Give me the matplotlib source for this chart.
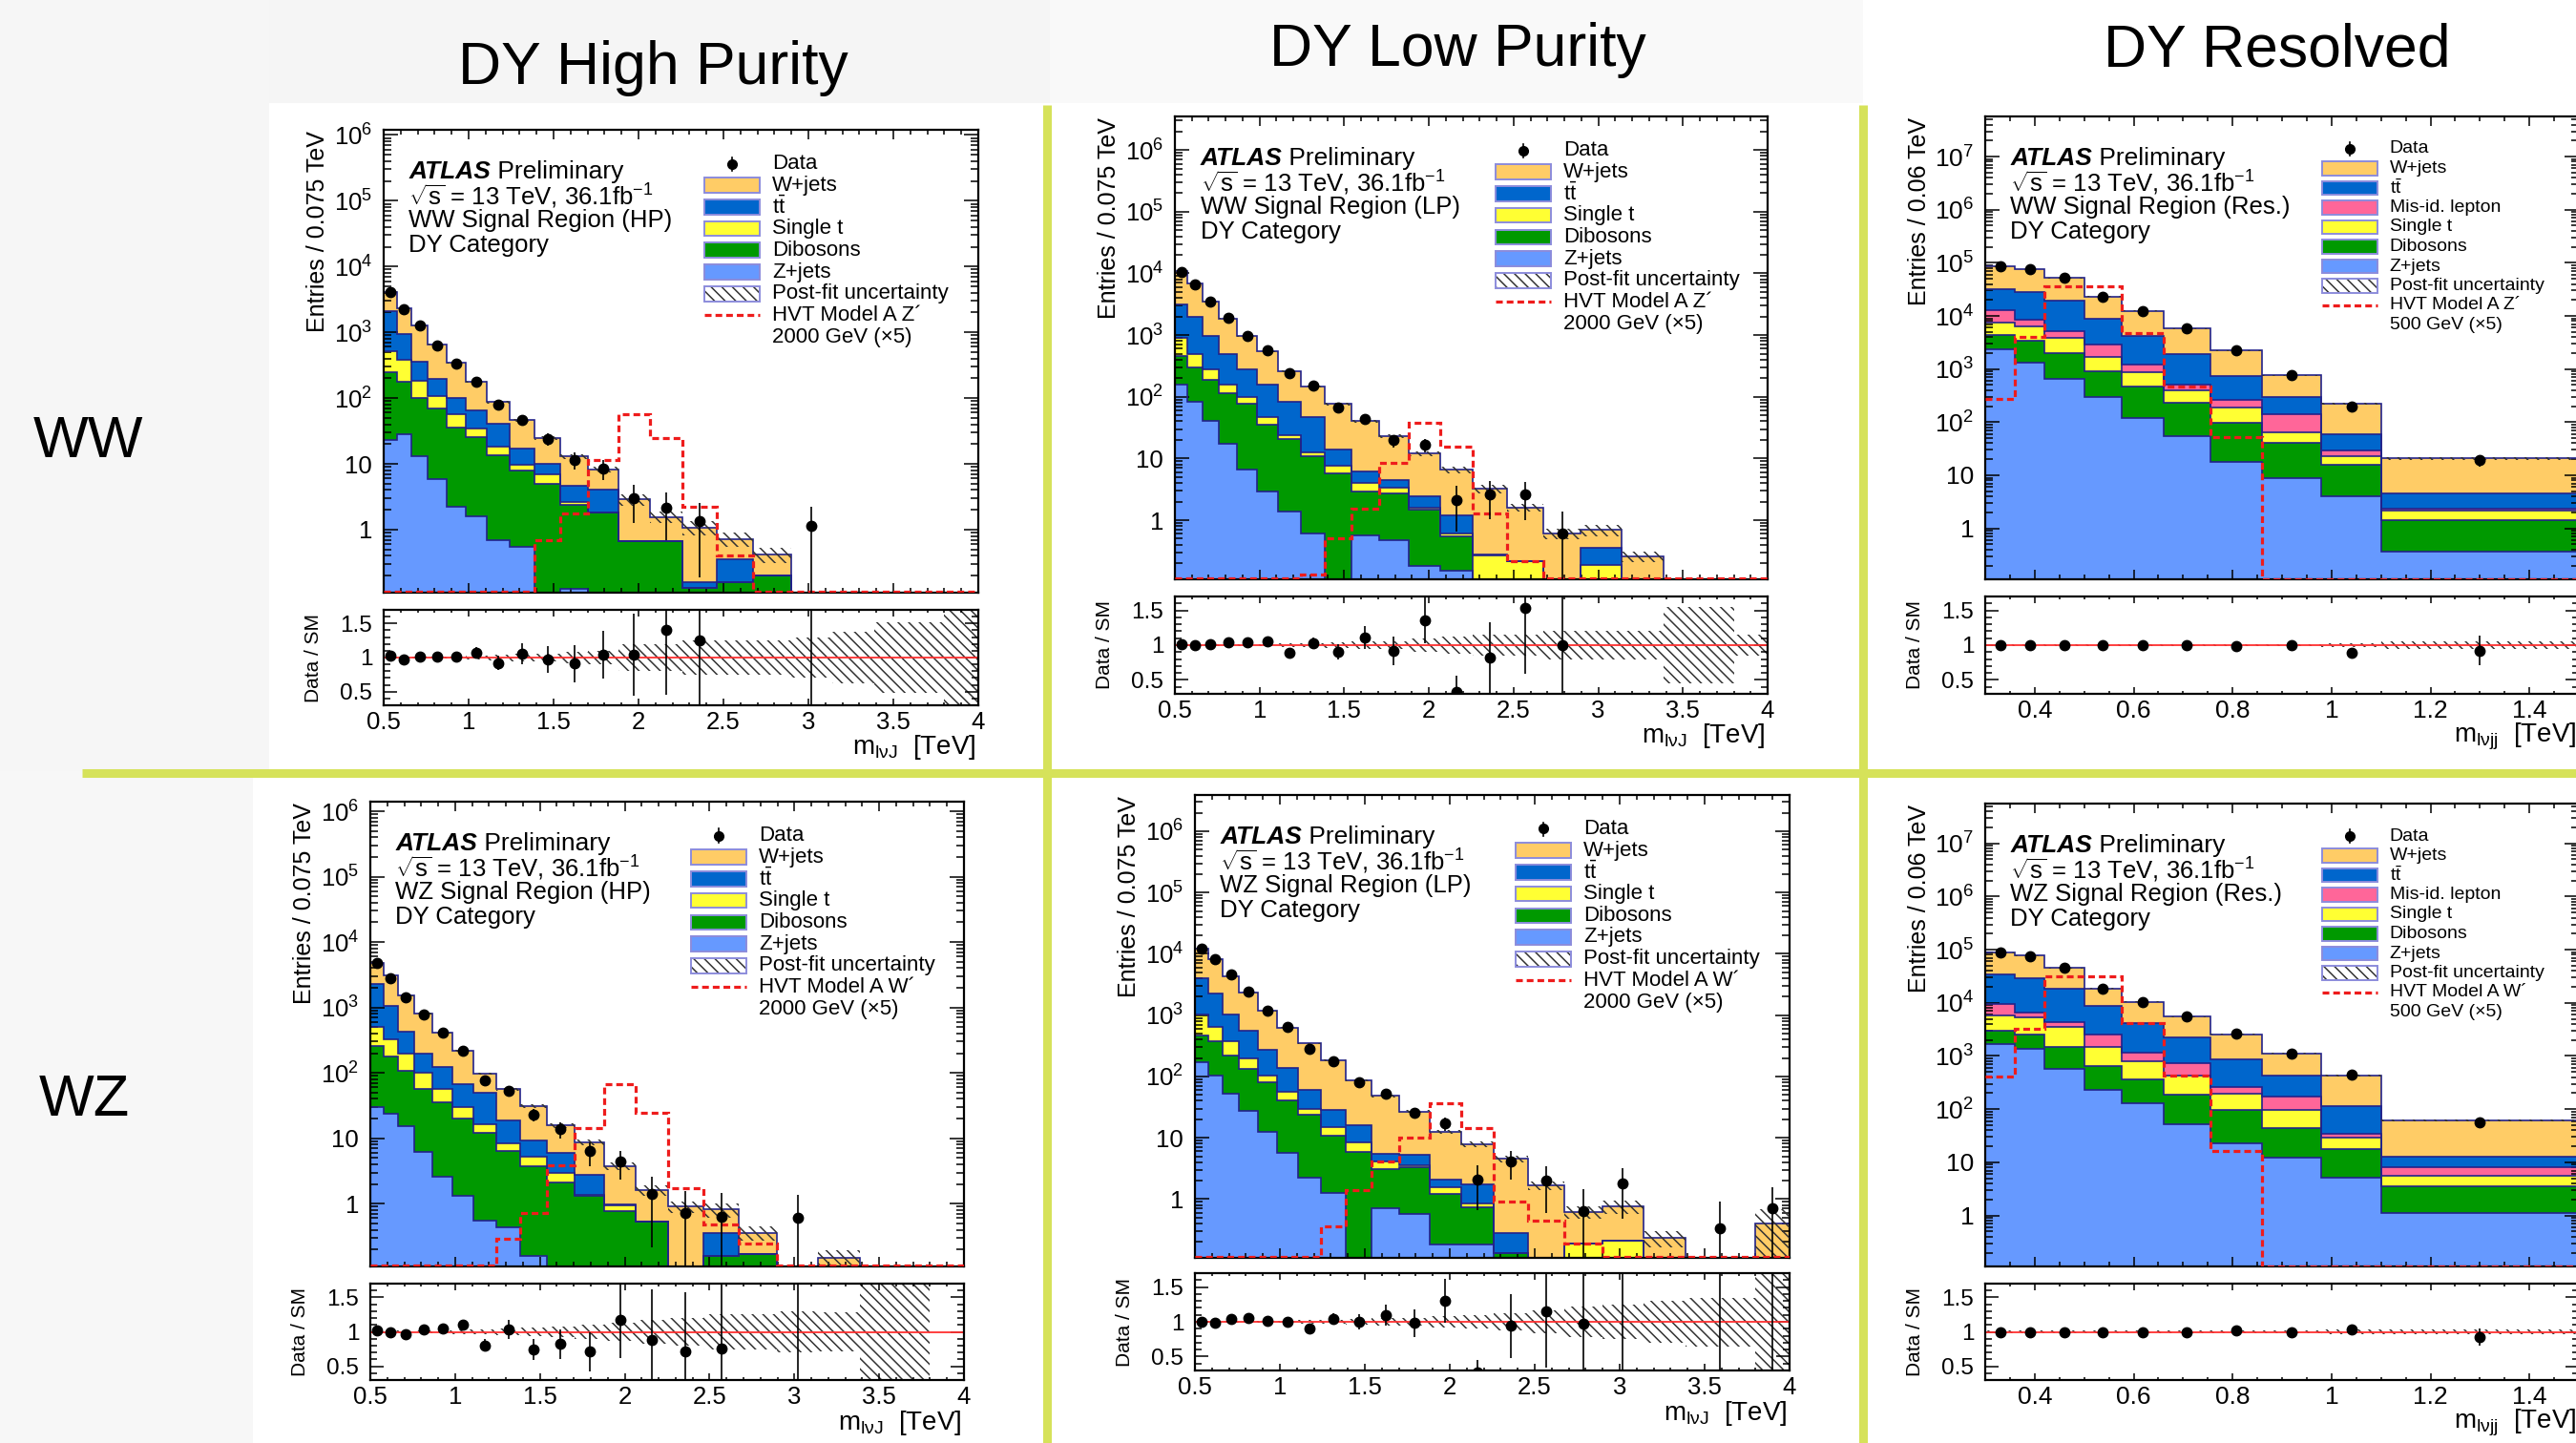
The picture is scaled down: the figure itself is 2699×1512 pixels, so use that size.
import numpy as np
import matplotlib.pyplot as plt
from matplotlib.patches import Rectangle
from matplotlib.lines import Line2D
from matplotlib.ticker import MultipleLocator, LogLocator, FixedLocator, FuncFormatter, NullFormatter

plt.rcParams['font.family'] = ['Liberation Sans', 'DejaVu Sans']
plt.rcParams['mathtext.fontset'] = 'custom'
plt.rcParams['mathtext.rm'] = 'Liberation Sans'
plt.rcParams['mathtext.it'] = 'Liberation Sans:italic'
plt.rcParams['mathtext.bf'] = 'Liberation Sans:bold'
plt.rcParams['hatch.linewidth'] = 1.1

W, H = 2699, 1512
nan = np.nan

# binning (TeV)
edges_boosted = [0.5, 0.576, 0.663, 0.759, 0.868, 0.985, 1.108, 1.244, 1.386, 1.541, 1.704,
                 1.881, 2.067, 2.257, 2.462, 2.674, 2.898, 3.14, 3.385, 3.8, 4.0]
edges_res = [0.3, 0.36, 0.42, 0.5, 0.575, 0.66, 0.755, 0.86, 0.98, 1.1, 1.5]

# ---- WW, high purity ----
ww_hp_zjets = [23, 28, 13, 5.9, 2.2, 1.6, 0.69, 0.55, 0, 0.125, 0, 0, 0, 0, 0, 0, 0, 0, 0, 0]
ww_hp_dib = [227, 152, 87, 63, 33, 24, 12.8, 7.25, 5.0, 2.25, 1.8, 0.66, 0.66, 0.13, 0.16, 0.2, 0, 0, 0, 0]
ww_hp_stop = [260, 200, 86, 39, 22, 9, 4.5, 1.8, 1.9, 0.23, 0.05, 0, 0, 0, 0, 0, 0, 0, 0, 0]
ww_hp_ttbar = [1590, 550, 169, 87, 43, 31, 23, 7.4, 3.1, 2.1, 2.25, 0, 0, 0.03, 0.19, 0, 0, 0, 0, 0]
ww_hp_wjets = [2000, 1400, 935, 465, 240, 110, 46, 29, 14.5, 8.2, 4.1, 2.24, 0.9, 0.92, 0.37, 0.22, 0, 0, 0, 0]
ww_hp_data = [4100, 2260, 1290, 640, 330, 180, 80, 47, 24, 11.6, 8.6, 3.0, 2.16, 1.35, 0, 0, 1.15, 0, 0, 0]
ww_hp_ratio = [1.03, 0.97, 1.01, 1.01, 1.02, 1.07, 0.92, 1.05, 0.97, 0.91, 1.04, 1.04, 1.40, 1.25,
               nan, nan, nan, nan, nan, nan]
ww_hp_unc = [0.02, 0.02, 0.02, 0.02, 0.02, 0.03, 0.04, 0.05, 0.06, 0.08, 0.1, 0.2, 0.2, 0.25,
             0.25, 0.25, 0.3, 0.38, 0.52, 1.0]
ww_hp_sig = [0, 0, 0, 0, 0, 0, 0, 0, 0.69, 1.76, 11.6, 57, 24.5, 2.2, 0.41, 0, 0, 0, 0, 0]

# ---- WW, low purity ----
ww_lp_zjets = [160, 83, 40, 17.5, 6.6, 2.9, 1.4, 0.6, 0, 0.56, 0.48, 0.18, 0.15, 0, 0, 0, 0, 0, 0, 0]
ww_lp_dib = [300, 212, 147, 97.5, 69.4, 32.1, 19.2, 10.1, 5.8, 2.34, 2.22, 1.32, 0.39, 0, 0, 0, 0, 0, 0, 0]
ww_lp_stop = [430, 205, 93, 45, 22, 12, 3.4, 1.9, 1.9, 1.1, 0.7, 0.1, 0.07, 0.27, 0.22, 0, 0.19, 0, 0, 0]
ww_lp_ttbar = [2270, 1450, 680, 340, 182, 113, 59, 34.4, 6.3, 2.2, 1.0, 0.86, 0.57, 0.01, 0, 0, 0.17, 0, 0, 0]
ww_lp_wjets = [7840, 4850, 2590, 1350, 680, 380, 177, 99, 62, 33.8, 18.6, 9.54, 5.42, 2.97, 1.38,
               0.61, 0.33, 0.26, 0, 0]
ww_lp_data = [10700, 6600, 3550, 1900, 980, 560, 240, 150, 67, 43, 19.7, 16.6, 2.1, 2.66, 2.6, 0.61,
              0, 0, 0, 0]
ww_lp_ratio = [1.01, 1.0, 1.01, 1.04, 1.04, 1.06, 0.89, 1.03, 0.90, 1.11, 0.92, 1.36, 0.33, 0.82,
               1.54, 1.0, nan, nan, nan, nan]
ww_lp_unc = [0.02, 0.02, 0.02, 0.02, 0.02, 0.02, 0.03, 0.03, 0.04, 0.05, 0.06, 0.1, 0.12, 0.15,
             0.15, 0.2, 0.2, 0.2, 0.55, 0.15]
ww_lp_sig = [0, 0, 0, 0, 0, 0, 0, 0.13, 0.5, 1.55, 8.4, 37.7, 15.3, 1.28, 0.22, 0, 0, 0, 0, 0]

# ---- WW, resolved ----
ww_res_zjets = [2400, 1300, 655, 297, 120, 54, 18, 8.8, 4.1, 0.37]
ww_res_dib = [2000, 2100, 1315, 623, 355, 176, 80, 31.2, 11.5, 1.09]
ww_res_stop = [3000, 2900, 1830, 780, 415, 160, 87, 25, 7.4, 0.67]
ww_res_misid = [5600, 2200, 1300, 1200, 340, 110, 75, 74, 6, 0.22]
ww_res_ttbar = [19000, 19500, 14100, 5800, 2970, 1400, 475, 156, 30, 2.25]
ww_res_wjets = [53000, 48000, 32300, 14600, 8200, 3900, 1515, 465, 163, 16.2]
ww_res_data = [85000, 76000, 51500, 23300, 12400, 5800, 2230, 760, 198, 19.1]
ww_res_ratio = [1.0, 1.0, 1.0, 1.0, 1.0, 1.0, 0.99, 1.0, 0.89, 0.92]
ww_res_unc = [0.02, 0.02, 0.02, 0.02, 0.02, 0.02, 0.02, 0.02, 0.03, 0.05]
ww_res_sig = [270, 4000, 36000, 36000, 4800, 475, 52, 0, 0, 0]

# ---- WZ, high purity ----
wz_hp_zjets = [30, 24, 15.4, 6.1, 2.6, 1.34, 0.55, 0.44, 0.16, 0, 0, 0, 0, 0, 0, 0, 0, 0, 0, 0]
wz_hp_dib = [225, 153, 92.6, 49.9, 33.4, 18.7, 11.75, 5.86, 3.64, 2.1, 1.3, 0.78, 0.53, 0, 0.16, 0.17,
             0, 0, 0, 0]
wz_hp_stop = [245, 153, 87, 44, 20, 10, 4.3, 2.0, 1.5, 0.84, 0.05, 0.18, 0, 0, 0, 0, 0, 0, 0, 0]
wz_hp_ttbar = [1790, 710, 235, 95, 66, 38, 32.4, 10.7, 3.9, 2.96, 1.45, 0.01, 0, 0, 0.2, 0, 0, 0, 0, 0]
wz_hp_wjets = [2480, 2050, 1080, 615, 288, 152, 49, 37, 21.8, 9.9, 6.0, 2.83, 1.1, 0.9, 0.46, 0.19,
               0, 0.15, 0, 0]
wz_hp_data = [4770, 2800, 1450, 770, 410, 220, 78, 54, 23, 13.7, 6.3, 4.4, 1.4, 0.71, 0.64, 0, 0.6,
              0, 0, 0]
wz_hp_ratio = [1.02, 0.99, 0.96, 1.04, 1.05, 1.1, 0.8, 1.03, 0.74, 0.82, 0.71, 1.17, 0.88, 0.72,
               0.76, nan, nan, nan, nan, nan]
wz_hp_unc = [0.02, 0.02, 0.02, 0.02, 0.02, 0.03, 0.04, 0.05, 0.06, 0.08, 0.1, 0.13, 0.18, 0.2,
             0.25, 0.25, 0.3, 0.28, 1.0, 0]
wz_hp_sig = [0, 0, 0, 0, 0, 0, 0, 0.29, 0.71, 3.9, 14.3, 67, 24.8, 1.73, 0.49, 0.25, 0, 0, 0, 0]

# ---- WZ, low purity ----
wz_lp_zjets = [170, 105, 52, 27.5, 12.5, 5.7, 2.2, 1.27, 0, 0.7, 0.58, 0.18, 0.18, 0, 0, 0, 0, 0, 0, 0]
wz_lp_dib = [300, 265, 168, 106.5, 68.5, 35.3, 21.3, 9.43, 5.9, 2.4, 2.72, 1.02, 0.55, 0.13, 0, 0,
             0, 0, 0, 0]
wz_lp_stop = [570, 280, 150, 66, 24, 15, 6.5, 4.0, 2.5, 1.0, 0.2, 0.35, 0.12, 0, 0, 0.19, 0.21, 0, 0, 0]
wz_lp_ttbar = [2960, 1570, 670, 350, 165, 82, 31, 13.3, 7.4, 1.4, 1.75, 0.55, 0.89, 0.15, 0, 0, 0,
               0, 0, 0]
wz_lp_wjets = [8000, 5880, 3310, 1750, 910, 492, 284, 155, 70, 42.5, 21.5, 10.4, 6.06, 4.22, 1.66,
               0.43, 0.54, 0.23, 0, 0.4]
wz_lp_data = [12000, 8100, 4550, 2450, 1200, 650, 285, 178, 81, 53, 25.5, 17, 2.1, 4.1, 2.0, 0.64,
              1.82, 0, 0.33, 0.7]
wz_lp_ratio = [1.0, 0.98, 1.04, 1.05, 1.01, 1.0, 0.9, 1.04, 1.0, 1.1, 0.98, 1.3, 0.27, 0.94, 1.15,
               0.97, nan, nan, nan, nan]
wz_lp_unc = [0.02, 0.02, 0.02, 0.02, 0.02, 0.02, 0.03, 0.03, 0.04, 0.05, 0.06, 0.08, 0.1, 0.12,
             0.17, 0.22, 0.25, 0.3, 0.35, 0.7]
wz_lp_sig = [0, 0, 0, 0, 0, 0, 0, 0.36, 1.42, 4.1, 9.9, 36.6, 14.2, 0.92, 0.45, 0.19, 0, 0, 0, 0]

# ---- WZ, resolved ----
wz_res_zjets = [1660, 1340, 580, 230, 129, 53, 22.5, 12.3, 5.2, 1.1]
wz_res_dib = [1340, 1160, 920, 415, 236, 132, 75.5, 32.2, 12.8, 2.4]
wz_res_stop = [2800, 2900, 2100, 855, 435, 240, 94, 53.5, 11.5, 2.0]
wz_res_misid = [3700, 1200, 700, 1000, 360, 305, 64, 77, 4.5, 2.7]
wz_res_ttbar = [24500, 22400, 14400, 6400, 3040, 1470, 624, 250, 79, 4.8]
wz_res_wjets = [54000, 49000, 26300, 9800, 6200, 3300, 1670, 695, 312, 48.6]
wz_res_data = [87000, 76000, 45000, 18700, 10300, 5500, 2600, 1120, 440, 57]
wz_res_ratio = [1.0, 1.0, 1.0, 1.0, 0.99, 1.0, 1.02, 1.0, 1.03, 0.92]
wz_res_unc = [0.02, 0.02, 0.02, 0.02, 0.02, 0.02, 0.02, 0.02, 0.03, 0.04]
wz_res_sig = [405, 3200, 31000, 31000, 4200, 425, 16.5, 0, 0, 0]

C_WJ, C_TT, C_MIS, C_ST, C_VV, C_ZJ = '#ffcc66', '#0066cc', '#ff6699', '#ffff33', '#009900', '#6699ff'
NAVY = '#22228a'
LEG_EDGE = '#8c8cdc'
SIGC = '#ee1c1c'
SEP = '#d6e25a'
HATCH = '\\\\\\'

fig = plt.figure(figsize=(W / 100, H / 100), dpi=100)


def fy(y):
    return 1 - y / H


def fig_text(x, y, s, **kw):
    return fig.text(x / W, fy(y), s, **kw)


def fig_rect(x0, y0, x1, y1, **kw):
    r = Rectangle((x0 / W, fy(y1)), (x1 - x0) / W, (y1 - y0) / H, transform=fig.transFigure, **kw)
    fig.add_artist(r)
    return r


def fig_line(xs, ys, **kw):
    fig.add_artist(Line2D([x / W for x in xs], [fy(y) for y in ys], transform=fig.transFigure, **kw))


def px_axes(l, r, t, b):
    return fig.add_axes([l / W, fy(b), (r - l) / W, (b - t) / H])


def log_label(v, pos):
    e = int(round(np.log10(v)))
    if e == 0:
        return '1'
    if e == 1:
        return '10'
    return r'$\mathregular{10^{%d}}$' % e


# faint slide background
fig_rect(0, 0, 282, 808, facecolor='#f6f6f6', lw=0, zorder=-5)
fig_rect(0, 808, 265, H, facecolor='#f7f7f7', lw=0, zorder=-5)
fig_rect(282, 0, 1100, 108, facecolor='#f5f5f5', lw=0, zorder=-5)
fig_rect(1100, 0, 1952, 108, facecolor='#f9f9f9', lw=0, zorder=-5)


def draw_panel(geo, edges, layers, data, ratio, unc, sig, ymax, xmaj, xmin_, region,
               sig_name, sig_mass, ylab, xlab, res):
    l, r, t, b, rt, rb = geo
    edges = np.asarray(edges)
    centers = 0.5 * (edges[1:] + edges[:-1])
    ylo = 0.11
    floor = 1e-4
    ax = px_axes(l, r, t, b)
    axr = px_axes(l, r, rt, rb)
    ax.set_yscale('log')
    ax.set_ylim(ylo, ymax)

    below = np.zeros(len(centers))
    tops = []
    for vals, col in layers:
        top = below + np.asarray(vals, float)
        ax.stairs(np.maximum(top, floor), edges, baseline=np.maximum(below, floor), fill=True,
                  facecolor=col, edgecolor='none', lw=0, zorder=1)
        tops.append(top)
        below = top
    for top in tops:
        ax.stairs(np.maximum(top, ylo * 1.005), edges, baseline=None, color=NAVY, lw=1.2, zorder=2)
    total = below
    unc = np.asarray(unc, float)
    ax.stairs(np.maximum(total * (1 + unc), floor), edges,
              baseline=np.maximum(total * (1 - unc), floor), fill=True, facecolor='none',
              edgecolor='#333333', hatch=HATCH, lw=0, zorder=3)
    ax.stairs(np.maximum(np.asarray(sig, float), ylo * 1.02), edges, baseline=None, color=SIGC,
              lw=2.3, ls=(0, (2.2, 1.3)), zorder=4)

    d = np.asarray(data, float)
    m = d > 0
    err = np.sqrt(d[m])
    ax.errorbar(centers[m], d[m], yerr=[np.minimum(err, d[m] * 0.999), err], fmt='o', color='k',
                ms=7.5, lw=1.2, capsize=0, zorder=5)

    # ratio panel
    axr.set_ylim(0.3, 1.7)
    axr.stairs(1 + unc, edges, baseline=1 - unc, fill=True, facecolor='none', edgecolor='#333333',
               hatch=HATCH, lw=0, zorder=1)
    axr.axhline(1, color='#ff3030', lw=1.3, zorder=2)
    rr = np.asarray(ratio, float)
    ok = ~np.isnan(rr)
    axr.errorbar(centers[ok], rr[ok], yerr=rr[ok] / np.sqrt(d[ok]), fmt='o', color='k', ms=7.5,
                 lw=1.2, capsize=0, zorder=5)
    full = np.isnan(rr) & m
    axr.vlines(centers[full], 0.3, 1.7, color='k', lw=1.2, zorder=5)

    lsz = 19 if res else 18.5
    for a in (ax, axr):
        a.set_xlim(edges[0], edges[-1])
        a.xaxis.set_major_locator(MultipleLocator(xmaj))
        a.xaxis.set_minor_locator(MultipleLocator(xmin_))
        a.tick_params(which='both', direction='in', top=True, right=True, width=1.1, labelsize=lsz)
        a.tick_params(which='minor', labelleft=False, labelbottom=False)
        for s in a.spines.values():
            s.set_linewidth(1.6)
    ax.yaxis.set_major_locator(LogLocator(base=10, numticks=15))
    ax.yaxis.set_minor_locator(LogLocator(base=10, subs=np.arange(2, 10), numticks=15))
    ax.yaxis.set_major_formatter(FuncFormatter(log_label))
    ax.yaxis.set_minor_formatter(NullFormatter())
    ax.tick_params(axis='x', which='major', length=7.5, labelbottom=False)
    ax.tick_params(axis='x', which='minor', length=3.8)
    ax.tick_params(axis='y', which='major', length=10.5, pad=8.5)
    ax.tick_params(axis='y', which='minor', length=5.5)
    axr.yaxis.set_major_locator(FixedLocator([0.5, 1.0, 1.5]))
    axr.yaxis.set_minor_locator(MultipleLocator(0.1))
    axr.yaxis.set_major_formatter(FuncFormatter(lambda v, p: f'{v:g}'))
    axr.xaxis.set_major_formatter(FuncFormatter(lambda v, p: f'{v:g}'))
    axr.tick_params(axis='x', which='major', length=5, pad=4)
    axr.tick_params(axis='x', which='minor', length=2.5)
    axr.tick_params(axis='y', which='major', length=10, pad=8.5, labelsize=17.5)
    axr.tick_params(axis='y', which='minor', length=5)

    # axis titles
    wpx = r - l
    ax.set_ylabel(ylab, fontsize=18, loc='top')
    ax.yaxis.set_label_coords(-57 / wpx, 1 - 1 / (b - t))
    axr.set_ylabel('Data / SM', fontsize=15)
    axr.yaxis.set_label_coords(-64 / wpx, 0.5)
    fig_text(r - 2, rb + 44.5, xlab, ha='right', va='center', fontsize=20)

    # ATLAS label block
    x0 = l + 26.5
    y0 = t + 43.8
    atl = fig_text(x0, y0, 'ATLAS', fontsize=19, fontweight='bold', fontstyle='italic',
                   ha='left', va='center')
    ax.annotate(' Preliminary', xy=(1, 0), xycoords=atl, ha='left', va='bottom', fontsize=19)
    for k, line in enumerate([r'$\sqrt{\mathrm{s}}$ = 13 TeV, 36.1fb$^{\mathregular{-1}}$',
                              region, 'DY Category']):
        fig_text(x0, y0 + 25.7 * (k + 1), line, fontsize=18.5, ha='left', va='center')

    # legend
    entries = [('data', None, 'Data'), ('box', C_WJ, 'W+jets'), ('box', C_TT, r'$\mathrm{t\bar{t}}$')]
    if res:
        entries.append(('box', C_MIS, 'Mis-id. lepton'))
    entries += [('box', C_ST, 'Single t'), ('box', C_VV, 'Dibosons'), ('box', C_ZJ, 'Z+jets'),
                ('hatch', None, 'Post-fit uncertainty'), ('sig', None, sig_name),
                ('none', None, sig_mass)]
    if res:
        fs, ly0, step, bx0, bx1, tx, bh = 14, 34, 20.5, 352.6, 410.7, 423.7, 14.7
    else:
        fs, ly0, step, bx0, bx1, tx, bh = 16, 35.5, 22.7, 336, 394, 407, 15.6
    for i, (kind, col, lab) in enumerate(entries):
        yc = t + ly0 + i * step
        if kind == 'data':
            xm = l + (bx0 + bx1) / 2
            fig_line([xm, xm], [yc - 7, yc + 7], color='k', lw=1.2, zorder=6)
            fig_line([xm], [yc], color='k', marker='o', ms=7, ls='none', zorder=6)
        elif kind == 'box':
            fig_rect(l + bx0, yc - bh / 2, l + bx1, yc + bh / 2, facecolor=col,
                     edgecolor=LEG_EDGE, lw=1.4, zorder=6)
        elif kind == 'hatch':
            fig_rect(l + bx0, yc - bh / 2, l + bx1, yc + bh / 2, facecolor='white',
                     edgecolor='#333333', hatch=HATCH, lw=0, zorder=6)
            fig_rect(l + bx0, yc - bh / 2, l + bx1, yc + bh / 2, facecolor='none',
                     edgecolor=LEG_EDGE, lw=1.4, zorder=7)
        elif kind == 'sig':
            fig_line([l + bx0, l + bx1], [yc, yc], color=SIGC, lw=2.3, ls=(0, (2.2, 1.3)), zorder=6)
        fig_text(l + tx, yc, lab, ha='left', va='center', fontsize=fs, zorder=6)


xl_boost = r'm$_{\mathrm{l\nu J}}$  [TeV]'
xl_res = r'm$_{\mathrm{l\nu jj}}$  [TeV]'

boosted = lambda z, v, s, t, w: [(z, C_ZJ), (v, C_VV), (s, C_ST), (t, C_TT), (w, C_WJ)]
resolved = lambda z, v, s, mi, t, w: [(z, C_ZJ), (v, C_VV), (s, C_ST), (mi, C_MIS), (t, C_TT), (w, C_WJ)]

draw_panel((402, 1025, 136, 621, 639, 739), edges_boosted,
           boosted(ww_hp_zjets, ww_hp_dib, ww_hp_stop, ww_hp_ttbar, ww_hp_wjets),
           ww_hp_data, ww_hp_ratio, ww_hp_unc, ww_hp_sig, 1.2e6, 0.5, 0.1,
           'WW Signal Region (HP)', 'HVT Model A Z\u00b4', '2000 GeV (\u00d75)',
           'Entries / 0.075 TeV', xl_boost, False)
draw_panel((1231, 1852, 122, 607, 625, 727), edges_boosted,
           boosted(ww_lp_zjets, ww_lp_dib, ww_lp_stop, ww_lp_ttbar, ww_lp_wjets),
           ww_lp_data, ww_lp_ratio, ww_lp_unc, ww_lp_sig, 3.5e6, 0.5, 0.1,
           'WW Signal Region (LP)', 'HVT Model A Z\u00b4', '2000 GeV (\u00d75)',
           'Entries / 0.075 TeV', xl_boost, False)
draw_panel((2080, 2702, 122, 607, 625, 727), edges_res,
           resolved(ww_res_zjets, ww_res_dib, ww_res_stop, ww_res_misid, ww_res_ttbar, ww_res_wjets),
           ww_res_data, ww_res_ratio, ww_res_unc, ww_res_sig, 5.7e7, 0.2, 0.05,
           'WW Signal Region (Res.)', 'HVT Model A Z\u00b4', '500 GeV (\u00d75)',
           'Entries / 0.06 TeV', xl_res, True)
draw_panel((388, 1010, 840, 1327, 1345, 1446), edges_boosted,
           boosted(wz_hp_zjets, wz_hp_dib, wz_hp_stop, wz_hp_ttbar, wz_hp_wjets),
           wz_hp_data, wz_hp_ratio, wz_hp_unc, wz_hp_sig, 1.4e6, 0.5, 0.1,
           'WZ Signal Region (HP)', 'HVT Model A W\u00b4', '2000 GeV (\u00d75)',
           'Entries / 0.075 TeV', xl_boost, False)
draw_panel((1252, 1875, 833, 1318, 1334, 1436), edges_boosted,
           boosted(wz_lp_zjets, wz_lp_dib, wz_lp_stop, wz_lp_ttbar, wz_lp_wjets),
           wz_lp_data, wz_lp_ratio, wz_lp_unc, wz_lp_sig, 3.9e6, 0.5, 0.1,
           'WZ Signal Region (LP)', 'HVT Model A W\u00b4', '2000 GeV (\u00d75)',
           'Entries / 0.075 TeV', xl_boost, False)
draw_panel((2080, 2702, 842, 1327, 1345, 1446), edges_res,
           resolved(wz_res_zjets, wz_res_dib, wz_res_stop, wz_res_misid, wz_res_ttbar, wz_res_wjets),
           wz_res_data, wz_res_ratio, wz_res_unc, wz_res_sig, 5.6e7, 0.2, 0.05,
           'WZ Signal Region (Res.)', 'HVT Model A W\u00b4', '500 GeV (\u00d75)',
           'Entries / 0.06 TeV', xl_res, True)

# slide decorations: separators, column and row titles
fig_line([86, W], [810, 810], color=SEP, lw=6.5, solid_capstyle='butt', zorder=8)
fig_line([1097, 1097], [110, H], color=SEP, lw=6.5, solid_capstyle='butt', zorder=8)
fig_line([1952, 1952], [110, H], color=SEP, lw=6.5, solid_capstyle='butt', zorder=8)

fig_text(684, 88, 'DY High Purity', ha='center', va='baseline', fontsize=45)
fig_text(1527, 69.5, 'DY Low Purity', ha='center', va='baseline', fontsize=45)
fig_text(2386, 69.5, 'DY Resolved', ha='center', va='baseline', fontsize=45)
fig_text(92, 479, 'WW', ha='center', va='baseline', fontsize=44)
fig_text(88, 1169, 'WZ', ha='center', va='baseline', fontsize=44)

fig.savefig('out.png', dpi=100)
